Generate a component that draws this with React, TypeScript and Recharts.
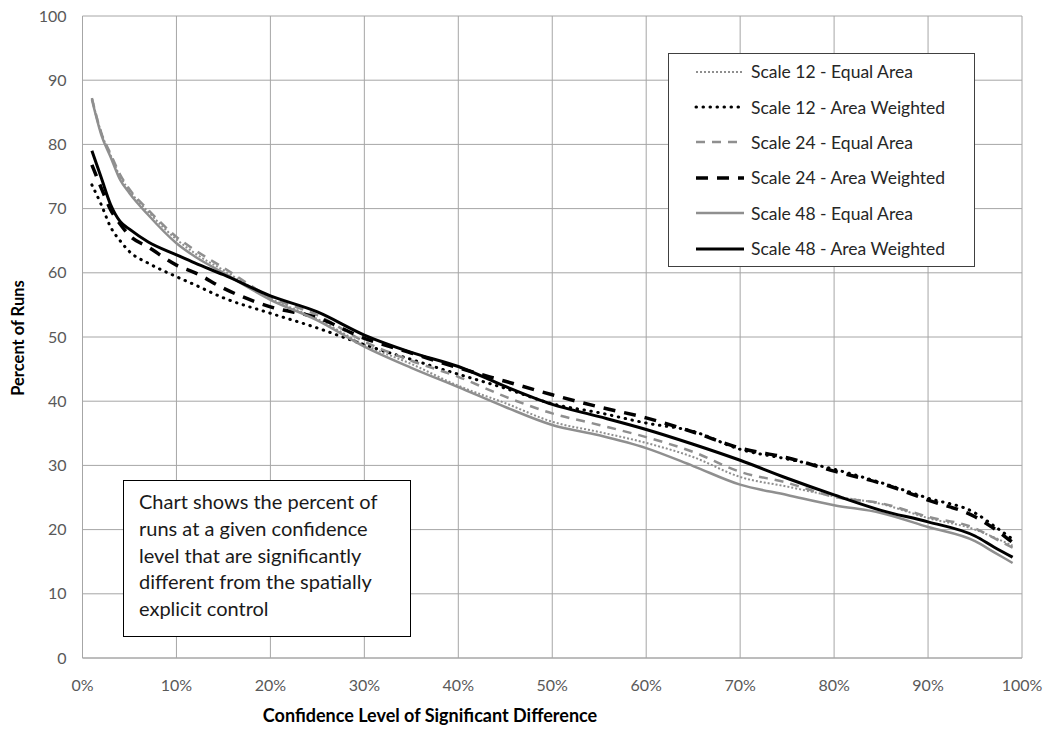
import React from 'react'
import { LineChart, Line, XAxis, YAxis, CartesianGrid } from 'recharts'

// confidence level (%) at which each point was read
const confidence = [1, 2, 3, 4, 5, 7, 10, 12, 15, 20, 25, 30, 35, 40, 45, 50, 55, 60, 65, 70, 75, 80, 85, 90, 95, 97, 99]

const scale12Equal = [87.2, 81.8, 78.3, 75.0, 72.8, 69.5, 65.2, 63.0, 60.4, 56.0, 52.8, 48.8, 45.8, 42.4, 39.7, 36.8, 35.2, 33.5, 31.3, 28.2, 26.7, 25.2, 24.0, 21.8, 20.0, 18.8, 17.5]
const scale12Weighted = [73.7, 70.6, 67.1, 65.0, 63.3, 61.5, 59.4, 58.1, 56.1, 53.7, 51.4, 48.8, 46.5, 44.2, 42.0, 39.6, 38.2, 36.6, 35.3, 32.5, 31.0, 29.4, 27.3, 24.9, 22.6, 20.6, 18.5]
const scale24Equal = [87.2, 81.8, 78.5, 75.3, 73.0, 69.8, 65.6, 63.5, 60.8, 56.2, 53.4, 49.3, 46.3, 43.8, 40.7, 38.1, 36.3, 34.4, 32.1, 29.0, 27.3, 25.1, 24.1, 22.0, 20.2, 18.7, 17.2]
const scale24Weighted = [76.8, 73.2, 69.8, 67.6, 65.8, 64.0, 61.2, 60.0, 57.6, 54.7, 53.0, 49.8, 47.5, 45.2, 43.1, 41.0, 39.1, 37.4, 35.2, 32.7, 31.2, 29.1, 27.2, 24.6, 22.0, 20.2, 18.0]
const scale48Equal = [87.0, 81.5, 78.0, 74.5, 72.4, 69.0, 64.6, 62.5, 60.0, 55.8, 52.6, 48.5, 45.2, 42.2, 39.1, 36.3, 34.7, 32.7, 29.9, 27.0, 25.4, 23.8, 22.6, 20.4, 18.2, 16.5, 14.8]
const scale48Weighted = [79.0, 74.8, 70.6, 68.0, 66.8, 64.8, 62.8, 61.5, 59.7, 56.4, 53.9, 50.3, 47.6, 45.4, 42.3, 39.5, 37.6, 35.6, 33.3, 30.8, 28.0, 25.4, 23.0, 21.2, 19.0, 17.3, 15.7]

const xTicks = [0, 10, 20, 30, 40, 50, 60, 70, 80, 90, 100]
const yTicks = [0, 10, 20, 30, 40, 50, 60, 70, 80, 90, 100]

const noteLines = [
  'Chart shows the percent of',
  'runs at a given confidence',
  'level that are significantly',
  'different from the spatially',
  'explicit control',
]

const GRAY = '#8f8f8f'
const GRID = '#a6a6a6'
const FONT = 'Lato, "Open Sans", sans-serif'

const series = [
  { key: 's12ea', name: 'Scale 12 - Equal Area', values: scale12Equal, color: GRAY, width: 2, dash: '2 2', cap: 'butt' },
  { key: 's12aw', name: 'Scale 12 - Area Weighted', values: scale12Weighted, color: '#000', width: 3, dash: '0.5 6.5', cap: 'round' },
  { key: 's24ea', name: 'Scale 24 - Equal Area', values: scale24Equal, color: GRAY, width: 2.5, dash: '9 7', cap: 'butt' },
  { key: 's24aw', name: 'Scale 24 - Area Weighted', values: scale24Weighted, color: '#000', width: 3.5, dash: '12 9', cap: 'butt' },
  { key: 's48ea', name: 'Scale 48 - Equal Area', values: scale48Equal, color: GRAY, width: 2.5, dash: undefined, cap: 'butt' },
  { key: 's48aw', name: 'Scale 48 - Area Weighted', values: scale48Weighted, color: '#000', width: 3, dash: undefined, cap: 'butt' },
]

const data = confidence.map((c, i) => {
  const row: Record<string, number> = { conf: c }
  series.forEach(s => { row[s.key] = s.values[i] })
  return row
})

function LegendBox() {
  return (
    <div style={{
      position: 'absolute', left: 668, top: 53, width: 307, height: 214,
      border: '1px solid #404040', background: '#fff',
      boxSizing: 'border-box', paddingTop: 0, fontFamily: FONT, fontSize: 17.5, color: '#262626',
    }}>
      {series.map(s => (
        <div key={s.key} style={{ display: 'flex', alignItems: 'center', height: 35.4 }}>
          <svg width={82} height={12} style={{ flex: 'none' }}>
            <line x1={27} y1={6} x2={75} y2={6} stroke={s.color} strokeWidth={s.width}
              strokeDasharray={s.dash} strokeLinecap={s.cap as 'butt' | 'round'} />
          </svg>
          <span>{s.name}</span>
        </div>
      ))}
    </div>
  )
}

export default function App() {
  return (
    <div style={{ position: 'fixed', left: 0, top: 0, width: 1053, height: 730, background: '#fff' }}>
      <LineChart width={1053} height={730} data={data} margin={{ top: 16, right: 31, bottom: 22, left: 20 }}>
        <CartesianGrid stroke={GRID} strokeWidth={1} />
        <XAxis
          dataKey="conf" type="number" domain={[0, 100]} ticks={xTicks}
          tickFormatter={v => `${v}%`} height={50}
          tick={{ fontSize: 16, fill: '#595959', fontFamily: FONT }}
          tickLine={false} tickMargin={16} axisLine={{ stroke: GRID }}
          label={{
            content: () => (
              <text x={430} y={722} textAnchor="middle" fontFamily={FONT} fontSize={18}
                fontWeight="bold" fill="#000">Confidence Level of Significant Difference</text>
            ),
          }}
        />
        <YAxis
          type="number" domain={[0, 100]} ticks={yTicks} width={62.5}
          tick={{ fontSize: 16, fill: '#595959', fontFamily: FONT }}
          tickLine={false} tickMargin={10} axisLine={{ stroke: GRID }}
          label={{
            content: () => (
              <text x={24} y={338} transform="rotate(-90 24 338)" textAnchor="middle" fontFamily={FONT}
                fontSize={16.5} fontWeight="bold" fill="#000">Percent of Runs</text>
            ),
          }}
        />
        {series.map(s => (
          <Line
            key={s.key} dataKey={s.key} name={s.name} type="monotone"
            stroke={s.color} strokeWidth={s.width} strokeDasharray={s.dash}
            strokeLinecap={s.cap as 'butt' | 'round'}
            dot={false} activeDot={false} isAnimationActive={false}
          />
        ))}
      </LineChart>
      <LegendBox />
      <div style={{
        position: 'absolute', left: 123, top: 480, width: 288, height: 157,
        border: '1.5px solid #000', background: '#fff', boxSizing: 'border-box',
        padding: '7px 6px 0 15px', fontFamily: FONT, fontSize: 20, lineHeight: '26.8px', color: '#1a1a1a',
        whiteSpace: 'nowrap',
      }}>
        {noteLines.map(l => <div key={l}>{l}</div>)}
      </div>
    </div>
  )
}
